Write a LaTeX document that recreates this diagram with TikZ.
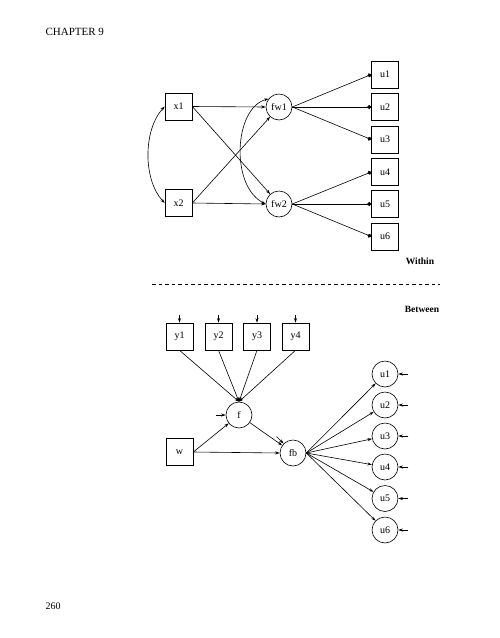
\documentclass[tikz,border=0pt]{standalone}
\usepackage{fontspec}
\setmainfont{Liberation Serif}
\usetikzlibrary{arrows.meta}

\tikzset{
  obs/.style = {draw, minimum size = 27pt, inner sep = 0pt, font = \fontsize{10}{12}\selectfont},
  lat/.style = {draw, circle, minimum size = 26pt, inner sep = 0pt, font = \fontsize{10}{12}\selectfont},
  reg/.style = {-{Stealth[length = 4.5pt, width = 3pt]}},
  thr/.style = {-{Circle[length = 4pt]}},
  cov/.style = {{Stealth[length = 4.5pt, width = 3pt]}-{Stealth[length = 4.5pt, width = 3pt]}}
}

\begin{document}
\begin{tikzpicture}[x = 1pt, y = -1pt, line width = 0.6pt]
\useasboundingbox (0, 0) rectangle (500, 638);
\node [anchor = west, font = \fontsize{11}{13}\selectfont] (chap) at (42, 32) {CHAPTER 9};
\node [anchor = west, font = \fontsize{10}{12}\selectfont] (page) at (42, 606) {260};
% within part
\node [obs] (x1) at (178.5, 106.5) {x1};
\node [obs] (x2) at (178.5, 203) {x2};
\node [lat] (fw1) at (279, 107) {fw1};
\node [lat] (fw2) at (279, 204) {fw2};
\node [obs] (u1) at (385, 74.5) {u1};
\node [obs] (u2) at (385, 107) {u2};
\node [obs] (u3) at (385, 139.5) {u3};
\node [obs] (u4) at (385, 172) {u4};
\node [obs] (u5) at (385, 204) {u5};
\node [obs] (u6) at (385, 236.5) {u6};
\draw [reg] (x1.east) -- (fw1.west);
\draw [reg] (x1.east) -- (fw2);
\draw [reg] (x2.east) -- (fw1);
\draw [reg] (x2.east) -- (fw2.west);
\draw [cov] (x1.west) .. controls (143, 130) and (143, 180) .. (x2.west);
\draw [cov] (fw1.142) .. controls (234, 108) and (230, 186) .. (fw2.west);
\draw [thr] (fw1.east) -- (u1.west);
\draw [thr] (fw1.east) -- (u2.west);
\draw [thr] (fw1.east) -- (u3.west);
\draw [thr] (fw2.east) -- (u4.west);
\draw [thr] (fw2.east) -- (u5.west);
\draw [thr] (fw2.east) -- (u6.west);
\node [font = \fontsize{9.5}{11}\selectfont\bfseries] (within) at (420, 261) {Within};
\draw [dash pattern = on 3.5pt off 3pt] (152, 284) -- (440, 284);
\node [font = \fontsize{9.5}{11}\selectfont\bfseries] (between) at (422, 309) {Between};
% between part
\node [obs] (y1) at (179.5, 336.5) {y1};
\node [obs] (y2) at (218.5, 336.5) {y2};
\node [obs] (y3) at (257, 336.5) {y3};
\node [obs] (y4) at (295.5, 336.5) {y4};
\node [lat] (f) at (239, 415) {f};
\node [obs] (w) at (179.5, 452) {w};
\node [lat] (fb) at (293, 453) {fb};
\node [lat] (b1) at (385, 374) {u1};
\node [lat] (b2) at (385, 405) {u2};
\node [lat] (b3) at (385, 436) {u3};
\node [lat] (b4) at (385, 467) {u4};
\node [lat] (b5) at (385, 498.5) {u5};
\node [lat] (b6) at (385, 530) {u6};
\draw [reg] ([yshift = 8pt] y1.north) -- (y1.north);
\draw [reg] ([yshift = 8pt] y2.north) -- (y2.north);
\draw [reg] ([yshift = 8pt] y3.north) -- (y3.north);
\draw [reg] ([yshift = 8pt] y4.north) -- (y4.north);
\draw [reg] (y1.south) -- (f.north);
\draw [reg] (y2.south) -- (f.north);
\draw [reg] (y3.south) -- (f.north);
\draw [reg] (y4.south) -- (f.north);
\draw [reg] ([xshift = -10pt] f.west) -- (f.west);
\draw [reg] (w.east) -- (f);
\draw [reg] (w.east) -- (fb.west);
\draw [reg] (f) -- (fb);
\draw [reg] ([shift = {(-7pt, 7pt)}] fb.135) -- (fb.135);
\draw [reg] (fb.east) -- (b1);
\draw [reg] (fb.east) -- (b2);
\draw [reg] (fb.east) -- (b3);
\draw [reg] (fb.east) -- (b4);
\draw [reg] (fb.east) -- (b5);
\draw [reg] (fb.east) -- (b6);
\draw [reg] ([xshift = 10pt] b1.east) -- (b1.east);
\draw [reg] ([xshift = 10pt] b2.east) -- (b2.east);
\draw [reg] ([xshift = 10pt] b3.east) -- (b3.east);
\draw [reg] ([xshift = 10pt] b4.east) -- (b4.east);
\draw [reg] ([xshift = 10pt] b5.east) -- (b5.east);
\draw [reg] ([xshift = 10pt] b6.east) -- (b6.east);
\end{tikzpicture}
\end{document}
